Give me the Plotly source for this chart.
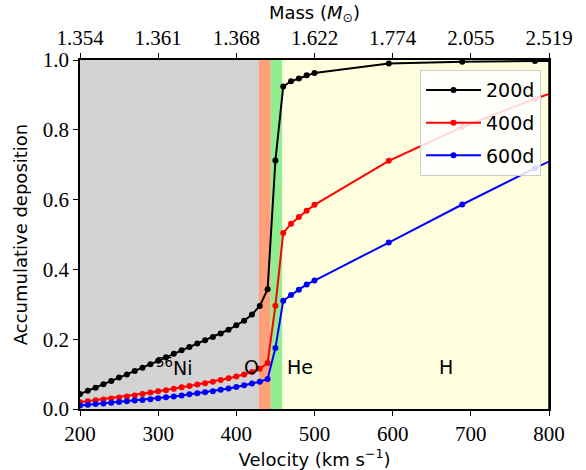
import plotly.graph_objects as go

# Shell velocities (km/s) and accumulated gamma-ray deposition at three epochs
velocity = [200, 210, 220, 230, 240, 250, 260, 270, 280, 290,
            300, 310, 320, 330, 340, 350, 360, 370, 380, 390,
            400, 410, 420, 430, 440, 450, 460, 470, 480, 490,
            500, 595, 689, 782, 876]

dep_200d = [0.043, 0.052, 0.061, 0.071, 0.080, 0.090, 0.099, 0.109, 0.118, 0.128,
            0.138, 0.148, 0.158, 0.168, 0.178, 0.188, 0.197, 0.206, 0.216, 0.227,
            0.240, 0.253, 0.271, 0.295, 0.343, 0.712, 0.924, 0.939, 0.947, 0.956,
            0.963, 0.990, 0.995, 0.997, 0.999]

dep_400d = [0.019, 0.022, 0.025, 0.027, 0.030, 0.033, 0.036, 0.039, 0.043, 0.047,
            0.051, 0.054, 0.058, 0.062, 0.066, 0.070, 0.074, 0.078, 0.083, 0.088,
            0.093, 0.099, 0.106, 0.115, 0.132, 0.296, 0.504, 0.531, 0.550, 0.568,
            0.585, 0.711, 0.808, 0.889, 0.960]

dep_600d = [0.010, 0.012, 0.014, 0.016, 0.018, 0.020, 0.022, 0.024, 0.026, 0.028,
            0.031, 0.034, 0.036, 0.039, 0.042, 0.045, 0.048, 0.051, 0.055, 0.059,
            0.063, 0.068, 0.073, 0.078, 0.086, 0.175, 0.310, 0.327, 0.342, 0.357,
            0.368, 0.477, 0.586, 0.690, 0.790]

series_names = ["200d", "400d", "600d"]
series_colors = ["black", "red", "blue"]

# Composition zones: (start velocity, end velocity, fill colour)
zone_edges = [200, 429, 444, 459, 800]
zone_colors = ["#d3d3d3", "#ffa07a", "#90ee90", "#ffffe0"]

# Zone labels
zone_labels = ["<sup>56</sup>Ni", "O", "He", "H"]
zone_label_x = [320, 420, 481, 668]
zone_label_y = 0.12

# Top axis: enclosed mass at each velocity tick
mass_tickvals = [200, 300, 400, 500, 600, 700, 800]
mass_ticktext = ["1.354", "1.361", "1.368", "1.622", "1.774", "2.055", "2.519"]

SERIF = "Liberation Serif"
SANS = "DejaVu Sans"

fig = go.Figure()

for name, color, ys in zip(series_names, series_colors, [dep_200d, dep_400d, dep_600d]):
    fig.add_trace(go.Scatter(
        x=velocity, y=ys, name=name, mode="lines+markers", legendgroup=name,
        line=dict(color=color, width=2),
        marker=dict(color=color, size=6),
        cliponaxis=True,
    ))

# invisible trace to carry the top mass axis
fig.add_trace(go.Scatter(x=[200, 800], y=[0, 0], xaxis="x2", mode="markers",
                         marker=dict(opacity=0), showlegend=False, hoverinfo="skip"))

shapes = []
for x0, x1, c in zip(zone_edges[:-1], zone_edges[1:], zone_colors):
    shapes.append(dict(type="rect", xref="x", yref="y", x0=x0, x1=x1, y0=0, y1=1,
                       fillcolor=c, line=dict(width=0), layer="below"))

annotations = []
for lab, lx in zip(zone_labels, zone_label_x):
    annotations.append(dict(x=lx, y=zone_label_y, xref="x", yref="y", text=lab,
                            showarrow=False, xanchor="center", yanchor="middle",
                            font=dict(family=SANS, size=19, color="black")))

axis_common = dict(showline=True, linecolor="black", linewidth=1.5,
                   ticks="outside", ticklen=5, tickwidth=1.2, tickcolor="black",
                   showgrid=False, zeroline=False, automargin=False,
                   tickfont=dict(family=SERIF, size=21, color="black"))

fig.update_layout(
    width=586, height=470,
    margin=dict(l=80, r=37, t=60, b=61),
    paper_bgcolor="white", plot_bgcolor="white",
    shapes=shapes, annotations=annotations,
    xaxis=dict(range=[200, 800], tickvals=[200, 300, 400, 500, 600, 700, 800],
               mirror=False,
               title=dict(text="Velocity (km s<sup>−1</sup>)",
                          font=dict(family=SANS, size=18, color="black"), standoff=2),
               **axis_common),
    xaxis2=dict(range=[200, 800], overlaying="x", side="top",
                tickvals=mass_tickvals, ticktext=mass_ticktext,
                title=dict(text="Mass (<i>M</i><sub>⊙</sub>)",
                           font=dict(family=SANS, size=18, color="black"), standoff=2),
                **axis_common),
    yaxis=dict(range=[0, 1], tickvals=[0, 0.2, 0.4, 0.6, 0.8, 1.0],
               ticktext=["0.0", "0.2", "0.4", "0.6", "0.8", "1.0"],
               mirror=True,
               title=dict(text="Accumulative deposition",
                          font=dict(family=SANS, size=18, color="black"), standoff=10),
               **axis_common),
    legend=dict(x=0.983, y=0.971, xanchor="right", yanchor="top",
                bgcolor="rgba(255,255,255,0.85)", bordercolor="#cccccc", borderwidth=1,
                font=dict(family=SANS, size=19, color="black"),
                tracegroupgap=5, itemwidth=55),
    showlegend=True,
)

# right spine without ticks
fig.add_shape(type="line", xref="paper", yref="paper", x0=1, x1=1, y0=0, y1=1,
              line=dict(color="black", width=1.5))

fig.write_html("out.html")
